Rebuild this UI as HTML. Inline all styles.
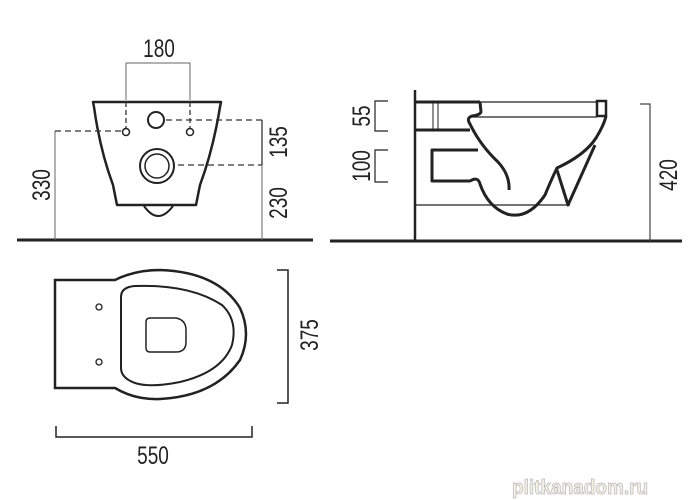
<!DOCTYPE html>
<html><head><meta charset="utf-8"><style>
html,body{margin:0;padding:0;background:#fff;}
svg{display:block;}
text{font-family:"Liberation Sans",sans-serif;fill:#222;}
</style></head><body>
<svg width="700" height="500" viewBox="0 0 700 500">
<g stroke="#222" fill="none">
<line x1="17" y1="240" x2="313" y2="240" stroke-width="3"/>
<line x1="330" y1="241" x2="682" y2="241" stroke-width="3"/>

<!-- FRONT VIEW -->
<path d="M93,102 L221,102 L220,107 Q213,150 200,185 L196,205 L117,205 L113,185 Q100,150 94,107 Z" stroke-width="2.5" stroke-linejoin="round"/>
<path d="M144,206 Q158,226 173,206" stroke-width="2"/>
<circle cx="156" cy="120" r="8" stroke-width="2"/>
<circle cx="157" cy="166" r="17" stroke-width="2"/>
<circle cx="157" cy="166" r="12" stroke-width="1.5"/>
<circle cx="126" cy="132" r="3.5" stroke-width="1.5"/>
<circle cx="190" cy="132" r="3.5" stroke-width="1.5"/>
<polyline points="126,100 126,63 190,63 190,100" stroke="#666" stroke-width="1"/>
<line x1="126" y1="102" x2="126" y2="128" stroke="#333" stroke-width="1.3" stroke-dasharray="5,3"/>
<line x1="190" y1="102" x2="190" y2="128" stroke="#333" stroke-width="1.3" stroke-dasharray="5,3"/>
<line x1="55" y1="131" x2="55" y2="240" stroke="#666" stroke-width="1"/>
<line x1="55" y1="131" x2="122" y2="131" stroke="#333" stroke-width="1.3" stroke-dasharray="6,4"/>
<line x1="166" y1="120" x2="262" y2="120" stroke="#333" stroke-width="1.3" stroke-dasharray="6,4"/>
<line x1="178" y1="165" x2="262" y2="165" stroke="#333" stroke-width="1.3" stroke-dasharray="6,4"/>
<line x1="262" y1="120" x2="262" y2="165" stroke="#333" stroke-width="1.3"/>
<line x1="262" y1="165" x2="262" y2="240" stroke="#666" stroke-width="1"/>

<!-- SIDE VIEW -->
<line x1="415" y1="90" x2="415" y2="241" stroke-width="2.5"/>
<line x1="416" y1="102" x2="480" y2="102" stroke-width="3"/>
<line x1="480" y1="102" x2="597" y2="102" stroke-width="1.3"/>
<line x1="470" y1="117" x2="597" y2="117" stroke-width="1.3"/>
<line x1="416" y1="130" x2="470" y2="130" stroke-width="3"/>
<line x1="433" y1="103" x2="433" y2="129" stroke-width="1"/>
<line x1="438" y1="103" x2="438" y2="129" stroke-width="1"/>
<line x1="416" y1="205" x2="570" y2="205" stroke-width="1.3"/>
<path d="M480,102 L481,112 Q480,115 472,116 Q466,118 470,124 Q480,145 498,162 Q510,175 509,190" stroke-width="3"/>
<rect x="597" y="101" width="9" height="15" stroke-width="2.5"/>
<path d="M478,150 L432,150 L432,181 L470,181 Q478,176 480,184 Q488,207 507,214 Q528,220 545,195 Q552,178 557,168 Q585,155 596,138 Q604,125 606,116" stroke-width="3" stroke-linejoin="round"/>
<path d="M557,170 L568,205 L595,145" stroke-width="3" stroke-linejoin="round"/>
<polyline points="388,101 375,101 375,131 388,131" stroke-width="1.2"/>
<polyline points="388,150 375,150 375,182 388,182" stroke-width="1.2"/>
<polyline points="640,104 650,104 650,241" stroke="#444" stroke-width="1.2"/>

<!-- PLAN VIEW -->
<path d="M115,280 L55,280 L55,388 L115,388 Q135,400 160,399 Q215,396 240,360 Q252,334 240,308 Q218,272 160,270 Q135,270 115,280 Z" stroke-width="2.5"/>
<path d="M121,297 Q121,287 135,286 Q190,284 222,305 Q238,320 232,345 Q222,372 180,382 Q150,388 135,383 Q121,378 121,368 Z" stroke-width="2"/>
<path d="M146,322 Q146,318 150,318 L176,318 Q186,320 186,330 L186,342 Q186,352 176,352 L150,352 Q146,352 146,348 Z" stroke-width="1.5"/>
<circle cx="99" cy="307" r="3" stroke-width="1.3"/>
<circle cx="99" cy="362" r="3" stroke-width="1.3"/>
<polyline points="277,270 288,270 288,403 277,403" stroke-width="1.5"/>
<polyline points="56,426 56,437 252,437 252,426" stroke-width="1.5"/>
</g>

<g font-size="25">
<text transform="translate(159,57) scale(0.76,1)" text-anchor="middle">180</text>
<text transform="translate(50,185) rotate(-90) scale(0.76,1)" text-anchor="middle">330</text>
<text transform="translate(287,142) rotate(-90) scale(0.76,1)" text-anchor="middle">135</text>
<text transform="translate(287,203) rotate(-90) scale(0.76,1)" text-anchor="middle">230</text>
<text transform="translate(370,116) rotate(-90) scale(0.76,1)" text-anchor="middle">55</text>
<text transform="translate(370,166) rotate(-90) scale(0.76,1)" text-anchor="middle">100</text>
<text transform="translate(677,175) rotate(-90) scale(0.76,1)" text-anchor="middle">420</text>
<text transform="translate(318,335) rotate(-90) scale(0.76,1)" text-anchor="middle">375</text>
<text transform="translate(153,464) scale(0.76,1)" text-anchor="middle">550</text>
</g>
<text x="512" y="494" font-size="20" font-weight="bold" style="fill:#f4f2e4;stroke:#bbb;stroke-width:0.8" transform="translate(512,0) scale(0.95,1) translate(-512,0)">plitkanadom.ru</text>
</svg>
</body></html>
